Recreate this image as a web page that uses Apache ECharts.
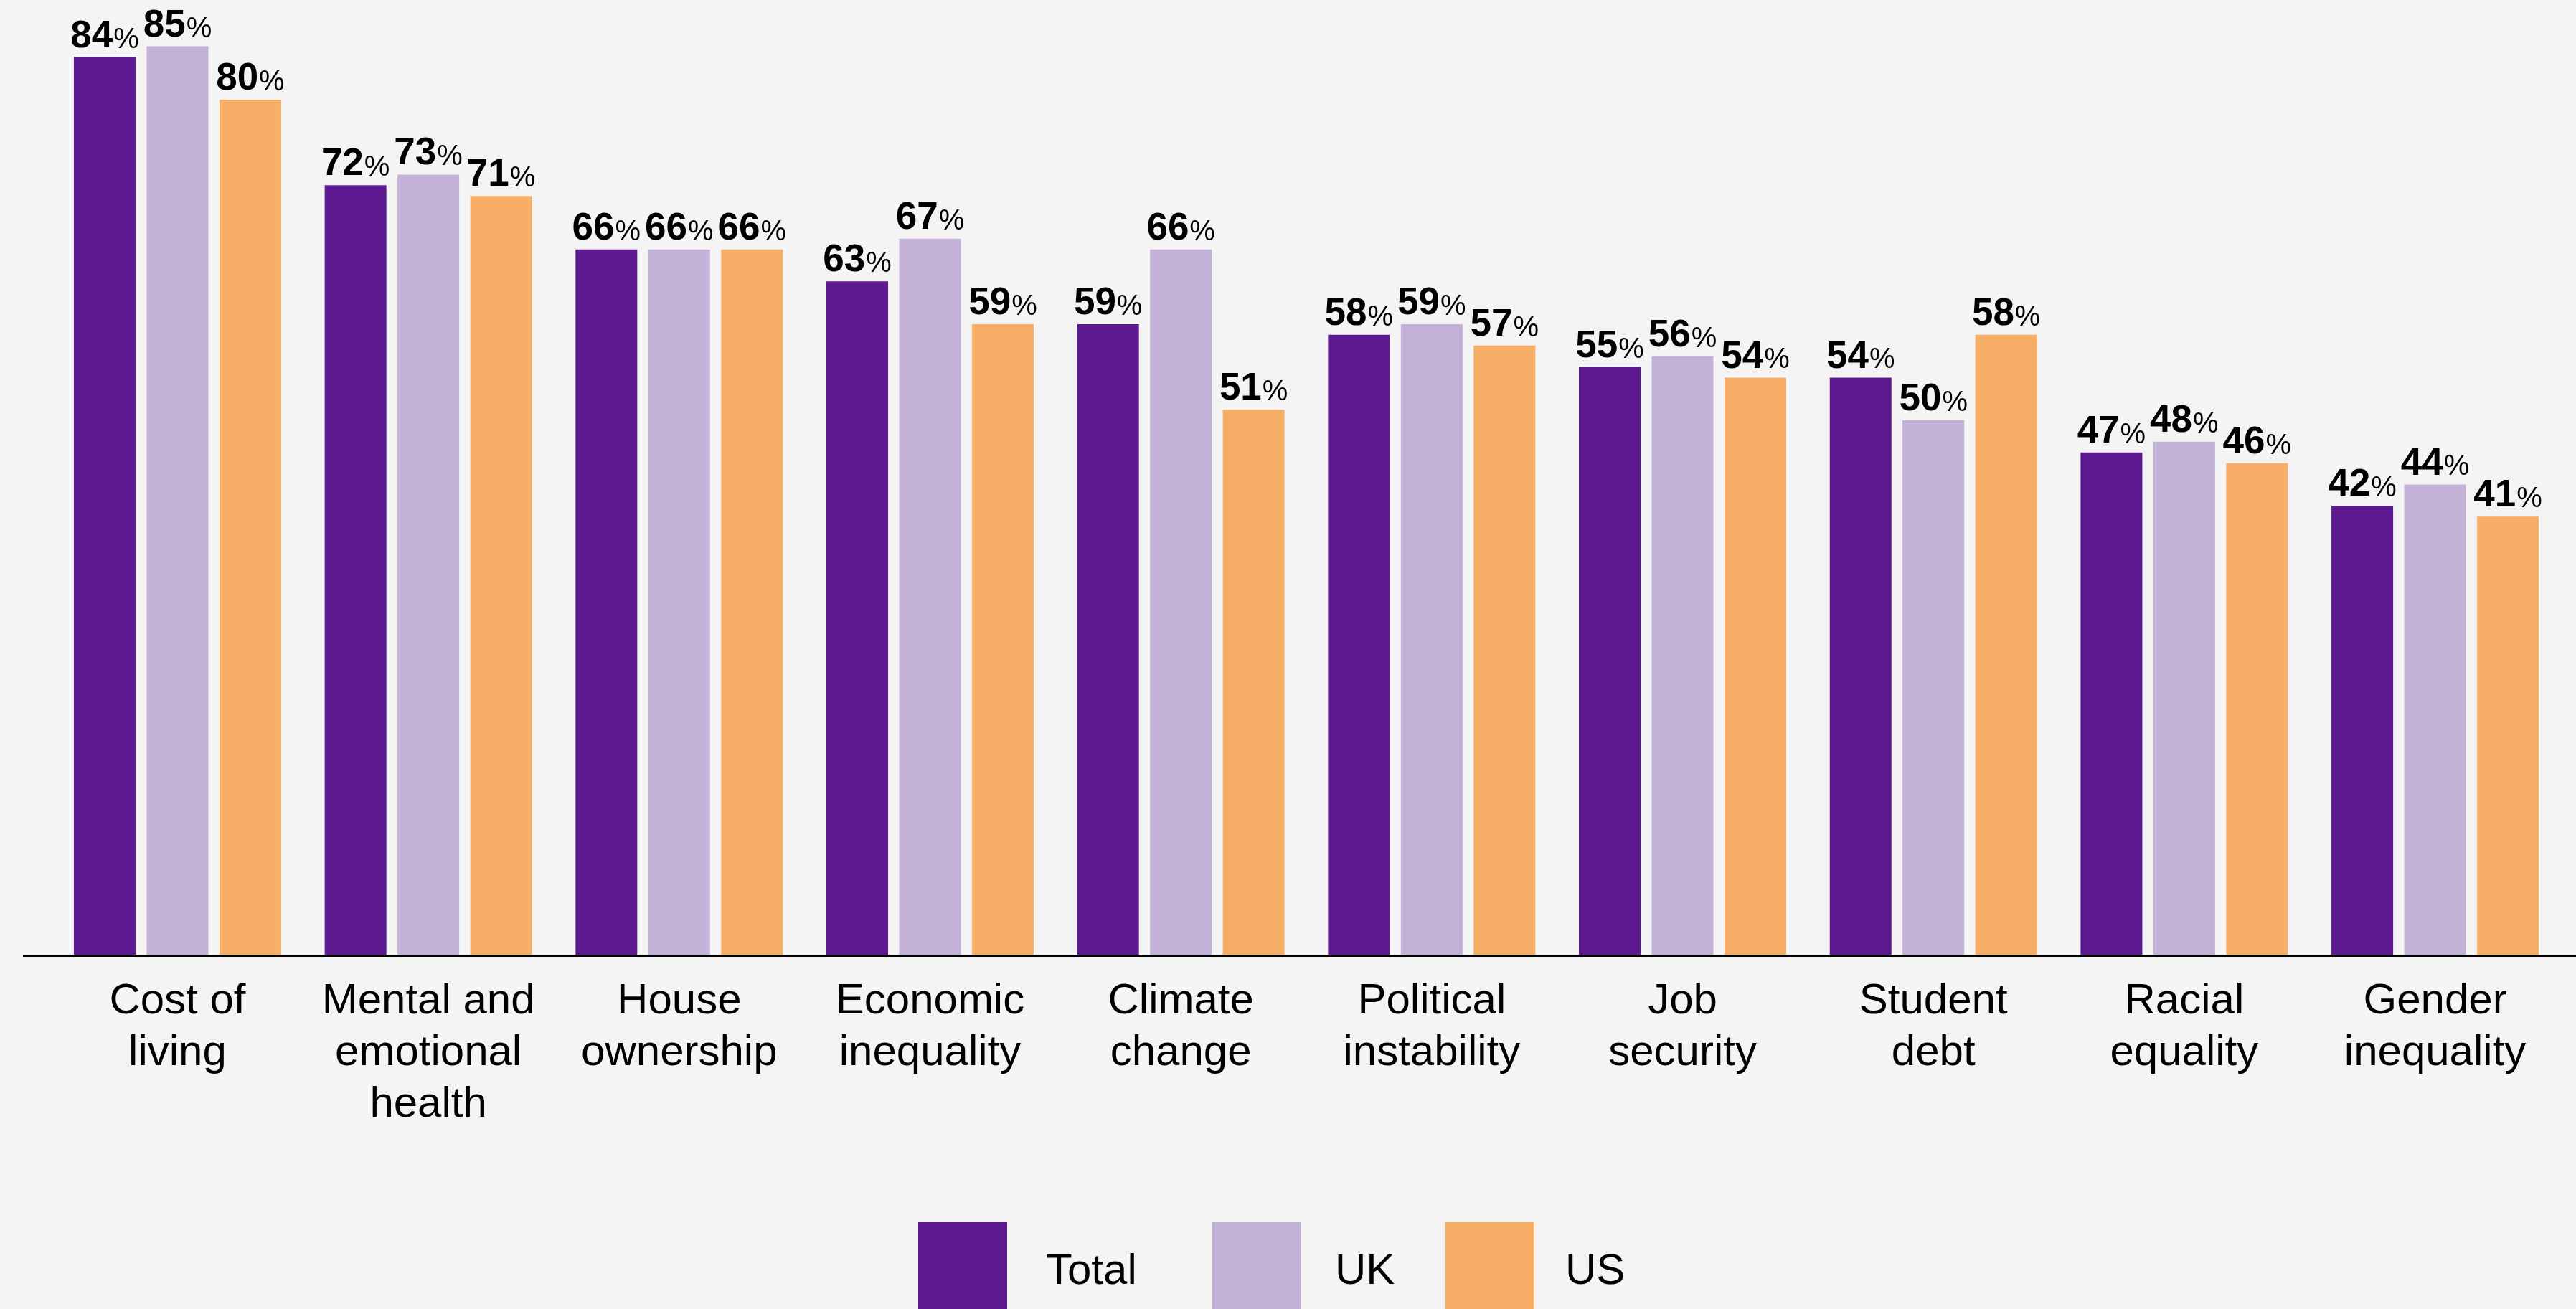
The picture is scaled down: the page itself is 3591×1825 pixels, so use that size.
<!DOCTYPE html>
<html>
<head>
<meta charset="utf-8">
<style>
  html, body { margin: 0; padding: 0; background: #f4f4f4; }
  #chart { width: 3591px; height: 1825px; }
</style>
<script src="https://cdn.jsdelivr.net/npm/echarts@6/dist/echarts.min.js"></script>
</head>
<body>
<div id="chart"></div>
<script>
// Share of respondents who worry about each issue (%)
const categories = [
  'Cost of\nliving',
  'Mental and\nemotional\nhealth',
  'House\nownership',
  'Economic\ninequality',
  'Climate\nchange',
  'Political\ninstability',
  'Job\nsecurity',
  'Student\ndebt',
  'Racial\nequality',
  'Gender\ninequality'
];
const totalValues = [84, 72, 66, 63, 59, 58, 55, 54, 47, 42];
const ukValues    = [85, 73, 66, 67, 66, 59, 56, 50, 48, 44];
const usValues    = [80, 71, 66, 59, 51, 57, 54, 58, 46, 41];
const seriesNames = ['Total', 'UK', 'US'];
const seriesColors = ['#5c1990', '#c4b1d7', '#f7ae67'];

const FONT = '"Liberation Sans", Arial, Helvetica, sans-serif';

const valueLabel = {
  show: true,
  position: 'top',
  distance: 2,
  formatter: p => '{n|' + p.value + '}{p|%}',
  rich: {
    n: { fontFamily: FONT, fontWeight: 'bold', fontSize: 53, color: '#000', verticalAlign: 'bottom', lineHeight: 56 },
    p: { fontFamily: FONT, fontWeight: 'normal', fontSize: 40, color: '#000', verticalAlign: 'bottom', lineHeight: 56, padding: [0, 0, 2, 1] }
  }
};

function barSeries(i, data) {
  return {
    name: seriesNames[i],
    type: 'bar',
    data: data,
    barWidth: 86,
    barGap: '18%',
    itemStyle: { color: seriesColors[i] },
    label: valueLabel,
    animation: false
  };
}

const legendLefts = [1275, 1685, 2010];
const legendTextGaps = [49, 42, 38];
const legends = seriesNames.map((name, i) => ({
  data: [name],
  left: legendLefts[i],
  top: 1699,
  itemWidth: 124,
  itemHeight: 128,
  icon: 'rect',
  selectedMode: false,
  formatter: '{a|{name}}',
  textStyle: {
    rich: { a: { fontFamily: FONT, fontSize: 60, color: '#000', padding: [10, 0, 0, legendTextGaps[i]] } }
  }
}));

const chart = echarts.init(document.getElementById('chart'), null, { renderer: 'canvas' });
chart.setOption({
  backgroundColor: '#f4f4f4',
  animation: false,
  grid: { left: 72.6, right: 21.6, top: 5, bottom: 494, containLabel: false },
  legend: legends,
  xAxis: {
    type: 'category',
    data: categories,
    axisLine: { show: false },
    axisTick: { show: false },
    axisLabel: {
      interval: 0,
      margin: 29,
      fontFamily: FONT,
      fontSize: 60,
      lineHeight: 72,
      color: '#000'
    }
  },
  yAxis: {
    type: 'value',
    min: 0,
    max: 89,
    show: false,
    splitLine: { show: false }
  },
  series: [
    barSeries(0, totalValues),
    barSeries(1, ukValues),
    barSeries(2, usValues)
  ]
});

// Baseline rule running under the bars, wider than the plot area
const y0 = chart.convertToPixel({ yAxisIndex: 0 }, 0);
chart.setOption({
  graphic: [{
    type: 'line',
    silent: true,
    z: 10,
    shape: { x1: 32, y1: y0 + 1.5, x2: 3591, y2: y0 + 1.5 },
    style: { stroke: '#000', lineWidth: 3 }
  }]
});
</script>
</body>
</html>
